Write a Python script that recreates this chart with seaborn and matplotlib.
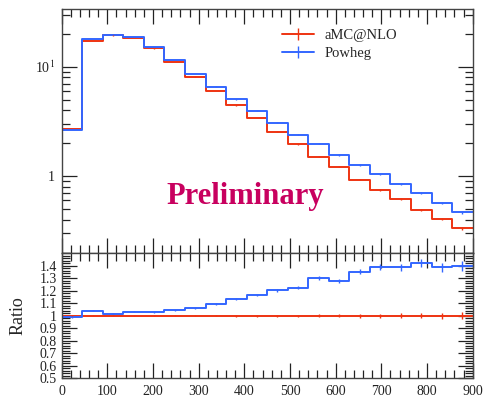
import numpy as np
import pandas as pd
import matplotlib
matplotlib.use("Agg")
import matplotlib.pyplot as plt
import matplotlib.ticker as mticker
from matplotlib.lines import Line2D
import seaborn as sns

# ---- data ----
bin_edges = [0, 45, 90, 135, 180, 225, 270, 315, 360, 405, 450,
             495, 540, 585, 630, 675, 720, 765, 810, 855, 900]
amc = [2.68, 17.2, 19.3, 18.2, 14.7, 11.0, 8.1, 6.0, 4.45, 3.40,
       2.55, 1.95, 1.51, 1.22, 0.93, 0.746, 0.614, 0.49, 0.406, 0.332]
powheg = [2.65, 17.9, 19.6, 18.8, 15.1, 11.5, 8.58, 6.56, 5.04, 3.96,
          3.07, 2.39, 1.97, 1.56, 1.26, 1.037, 0.853, 0.699, 0.564, 0.465]
amc_relerr = [0.004, 0.003, 0.003, 0.003, 0.004, 0.004, 0.005, 0.006, 0.007, 0.008,
              0.009, 0.010, 0.012, 0.013, 0.015, 0.017, 0.019, 0.022, 0.025, 0.028]
powheg_relerr = [0.004, 0.003, 0.003, 0.003, 0.004, 0.004, 0.005, 0.006, 0.007, 0.008,
                 0.009, 0.010, 0.012, 0.013, 0.015, 0.017, 0.019, 0.022, 0.025, 0.028]
labels = ["aMC@NLO", "Powheg"]
colors = ["#EE3311", "#3366FF"]
ratio_ticks = [0.5, 0.6, 0.7, 0.8, 0.9, 1.0, 1.1, 1.2, 1.3, 1.4]
x_ticks = [0, 100, 200, 300, 400, 500, 600, 700, 800, 900]

sns.set_style("ticks")
plt.rcParams["font.family"] = ["Liberation Serif", "DejaVu Serif"]
plt.rcParams["mathtext.fontset"] = "stix"

edges = np.array(bin_edges, dtype=float)
centers = 0.5 * (edges[:-1] + edges[1:])
amc_a = np.array(amc)
pow_a = np.array(powheg)
ratio_amc = amc_a / amc_a
ratio_pow = pow_a / amc_a

rows = []
for lab, vals, rvals in [(labels[0], amc_a, ratio_amc), (labels[1], pow_a, ratio_pow)]:
    for x, v, r in zip(edges, np.append(vals, vals[-1]), np.append(rvals, rvals[-1])):
        rows.append({"x": x, "y": v, "r": r, "gen": lab})
df = pd.DataFrame(rows)

fig = plt.figure(figsize=(4.85, 3.99), dpi=100)
ax = fig.add_axes([0.1272, 0.3647, 0.8474, 0.6127])
axr = fig.add_axes([0.1272, 0.0526, 0.8474, 0.3121])

palette = dict(zip(labels, colors))
sns.lineplot(data=df, x="x", y="y", hue="gen", palette=palette, ax=ax,
             drawstyle="steps-post", linewidth=1.4, legend=False, estimator=None, sort=False)
sns.lineplot(data=df, x="x", y="r", hue="gen", palette=palette, ax=axr,
             drawstyle="steps-post", linewidth=1.4, legend=False, estimator=None, sort=False)

for vals, rv, rel, c in [(amc_a, ratio_amc, amc_relerr, colors[0]),
                         (pow_a, ratio_pow, powheg_relerr, colors[1])]:
    rel = np.array(rel)
    ax.errorbar(centers, vals, yerr=vals * rel, fmt="none", ecolor=c, elinewidth=1)
    axr.errorbar(centers, rv, yerr=rv * rel, fmt="none", ecolor=c, elinewidth=1)

# main axis
ax.set_yscale("log")
ax.set_xlim(0, 900)
ax.set_ylim(0.196, 33.7)
ax.set_xlabel("")
ax.set_ylabel("")
ax.yaxis.set_major_locator(mticker.FixedLocator([1, 10]))
ax.yaxis.set_major_formatter(mticker.FixedFormatter(["1", r"10$^{1}$"]))
ax.yaxis.set_minor_locator(mticker.LogLocator(base=10, subs=np.arange(2, 10)))
ax.yaxis.set_minor_formatter(mticker.NullFormatter())
ax.xaxis.set_major_locator(mticker.FixedLocator(x_ticks))
ax.xaxis.set_minor_locator(mticker.MultipleLocator(20))
ax.set_xticklabels([])

ax.text(0.447, 0.235, "Preliminary", transform=ax.transAxes, color="#C8005F",
        fontsize=22, fontweight="bold", ha="center", va="center")

handles = [Line2D([], [], color=c, lw=1.4, marker="|", markersize=9, markeredgewidth=1)
           for c in colors]
leg = ax.legend(handles, labels, loc="upper left", bbox_to_anchor=(0.515, 0.955),
                frameon=False, fontsize=10.5, handlelength=2.2, handletextpad=0.7,
                labelspacing=0.35, borderaxespad=0.2)

# ratio axis
axr.set_xlim(0, 900)
axr.set_ylim(0.5, 1.5)
axr.set_xlabel("")
axr.set_ylabel("Ratio", fontsize=13, labelpad=9)
axr.yaxis.set_major_locator(mticker.FixedLocator(ratio_ticks))
axr.yaxis.set_major_formatter(mticker.FuncFormatter(lambda v, p: f"{v:g}"))
axr.yaxis.set_minor_locator(mticker.MultipleLocator(0.02))
axr.xaxis.set_major_locator(mticker.FixedLocator(x_ticks))
axr.xaxis.set_minor_locator(mticker.MultipleLocator(20))

for a in (ax, axr):
    a.tick_params(which="both", direction="in", top=True, right=True,
                  colors="#222222", labelsize=10, width=0.9)
    a.tick_params(which="major", length=11)
    a.tick_params(which="minor", length=5.5)
    for s in a.spines.values():
        s.set_color("#444444")
        s.set_linewidth(1.0)
axr.tick_params(axis="x", pad=5)
ax.tick_params(axis="y", which="major", pad=5)

fig.savefig("out.png", dpi=100)
